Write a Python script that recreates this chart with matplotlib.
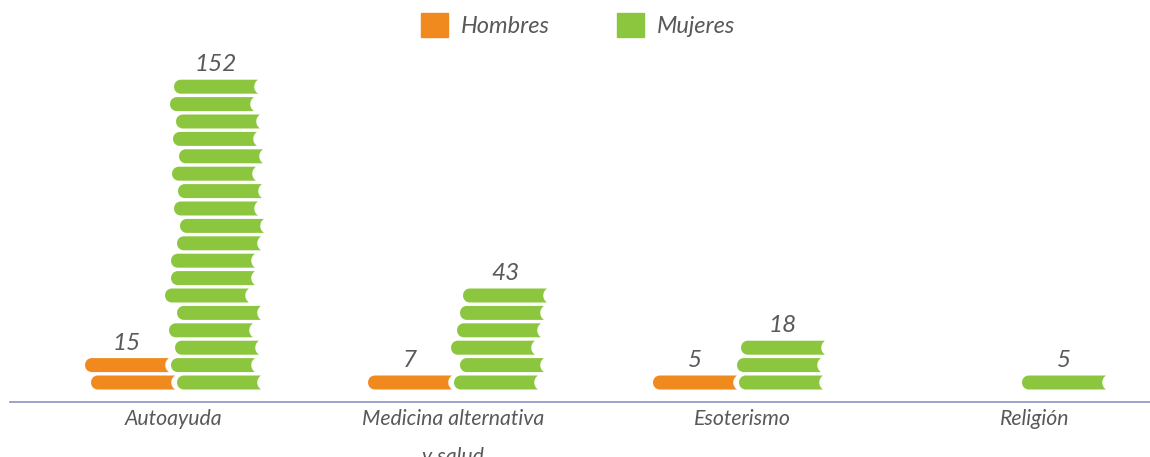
import matplotlib
matplotlib.use('Agg')
import matplotlib.pyplot as plt
from matplotlib.patches import PathPatch, Patch
from matplotlib.path import Path

categories = ['Autoayuda', 'Medicina alternativa\ny salud', 'Esoterismo', 'Religión']
hombres = [15, 7, 5, 0]
mujeres = [152, 43, 18, 5]
# cuantos libros se dibujan por barra
libros_h = [2, 1, 1, 0]
libros_m = [18, 6, 3, 1]

naranja = '#F18A1E'
verde = '#8CC63F'
gris = '#58595B'

# centros de categoria y desplazamiento de cada libro (px), de abajo hacia arriba
pos_cat = [173, 453, 742, 1035]
shift_h = [[-82, -88], [-85], [-89], []]
shift_m = [[4, -2, 2, -4, 4, -8, -2, -2, 4, 7, 1, 5, -1, 6, 0, 3, -3, 1],
           [1, 7, -2, 4, 7, 10],
           [-3, -5, -1],
           [-13]]

plt.rcParams['font.family'] = ['Lato', 'DejaVu Sans']
fig = plt.figure(figsize=(11.5, 4.57), dpi=100)

W, H = 1150, 457
base_px = 402
paso = 17.4     # px entre libros
alto = 14 / paso
ancho = 84
ax = fig.add_axes([10 / W, (H - base_px) / H, 1140 / W, base_px / H])

ax.set_xlim(10, 1150)
ax.set_ylim(0, base_px / paso)
ax.patch.set_alpha(0)


def libro(x, y, color):
    # lomo redondo a la izquierda, hojas con muesca a la derecha
    r = 7
    n = 5
    verts = [(x + r, y), (x + ancho, y), (x + ancho - n, y + alto * 0.25), (x + ancho - n, y + alto * 0.75),
             (x + ancho, y + alto), (x + r, y + alto), (x - r / 3, y + alto), (x - r / 3, y),
             (x + r, y), (x + r, y)]
    codes = [Path.MOVETO, Path.LINETO, Path.CURVE4, Path.CURVE4, Path.CURVE4,
             Path.LINETO, Path.CURVE4, Path.CURVE4, Path.CURVE4, Path.CLOSEPOLY]
    ax.add_patch(PathPatch(Path(verts, codes), facecolor=color, edgecolor='none'))


y0 = 12.5 / paso
for i in range(len(categories)):
    for serie, libros, shift, color in [(hombres, libros_h, shift_h, naranja),
                                        (mujeres, libros_m, shift_m, verde)]:
        for k in range(libros[i]):
            libro(pos_cat[i] + shift[i][k], y0 + k, color)
        if libros[i] > 0:
            xc = pos_cat[i] + shift[i][libros[i] - 1] + ancho / 2
            yc = y0 + libros[i] - 1 + alto
            ax.annotate(str(serie[i]), (xc, yc), xytext=(0, 15 * 0.72), textcoords='offset points',
                        ha='center', va='center', fontsize=17.5, style='italic', color=gris)

ax.set_xticks(pos_cat)
ax.set_xticklabels(categories, fontsize=15.3, style='italic', color=gris, linespacing=2.15)
ax.tick_params(axis='x', length=0, pad=5)
ax.set_yticks([])
for lado in ['top', 'left', 'right']:
    ax.spines[lado].set_visible(False)
ax.spines['bottom'].set_color('#8C92BF')
ax.spines['bottom'].set_linewidth(1.2)

fs = 17
fpx = fs * 100 / 72
leg = fig.legend(handles=[Patch(color=naranja, label='Hombres'), Patch(color=verde, label='Mujeres')],
                 ncol=2, frameon=False, loc='center', bbox_to_anchor=(578.5 / W, 1 - 25 / H),
                 prop={'size': fs, 'style': 'italic'}, labelcolor=gris,
                 handlelength=27 / fpx, handleheight=27 / fpx, handletextpad=13 / fpx,
                 columnspacing=67 / fpx, borderpad=0, borderaxespad=0)

fig.savefig('out.png', dpi=100)
